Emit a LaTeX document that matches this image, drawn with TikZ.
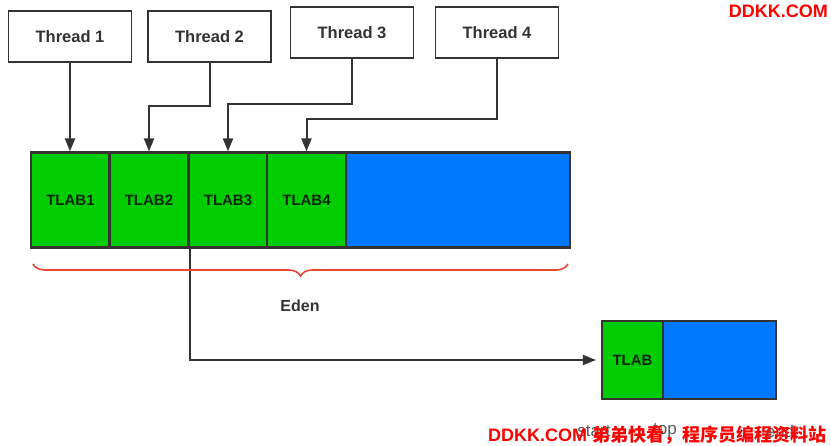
\documentclass[tikz,border=0pt]{standalone}
\usepackage{fontspec}
\setmainfont{Liberation Sans}
\newfontfamily\cjk{Noto Sans CJK SC}
\usetikzlibrary{arrows.meta,decorations.pathreplacing}
\definecolor{tgreen}{RGB}{0,204,0}
\definecolor{tblue}{RGB}{0,120,255}
\definecolor{edge}{RGB}{51,51,51}
\definecolor{wm}{RGB}{255,0,0}
\definecolor{braceRed}{RGB}{235,70,50}
\tikzset{
  thread/.style={draw=edge, line width=1.8pt, fill=white, minimum width=123pt, minimum height=51pt, inner sep=0pt, font=\bfseries\fontsize{16.5}{18}\selectfont, text=edge},
  tlab/.style={draw=edge, line width=2.2pt, fill=tgreen, minimum width=79pt, minimum height=95pt, inner sep=0pt, font=\bfseries\fontsize{15}{17}\selectfont, text=black!85!green},
  free/.style={draw=edge, line width=2.2pt, fill=tblue, minimum height=95pt, inner sep=0pt},
  arr/.style={draw=edge, line width=2pt, -{Triangle[length=13pt,width=10pt]}},
  lbl/.style={font=\fontsize{17}{19}\selectfont, text=black!65},
  wmk/.style={font=\bfseries\fontsize{18}{20}\selectfont, text=wm, inner sep=0pt}
}
\begin{document}
\begin{tikzpicture}[x=1pt,y=-1pt]
\useasboundingbox (0,0) rectangle (831,446);
% thread boxes
\node[thread] (t1) at (70,36.5) {Thread 1};
\node[thread] (t2) at (209.5,36.5) {Thread 2};
\node[thread] (t3) at (352,32.5) {Thread 3};
\node[thread] (t4) at (497,32.5) {Thread 4};
% eden
\node[free, minimum width=225pt] (blue) at (457.5,200) {};
\node[tlab] (l1) at (70.5,200) {TLAB1};
\node[tlab] (l2) at (149,200) {TLAB2};
\node[tlab] (l3) at (228,200) {TLAB3};
\node[tlab] (l4) at (306.5,200) {TLAB4};
% small tlab
\node[free, minimum width=113pt, minimum height=78pt] (sblue) at (719.5,360) {};
\node[tlab, minimum width=61pt, minimum height=78pt] (stlab) at (632.5,360) {TLAB};
% arrows
\draw[arr] (t1.south) -- (t1.south |- l1.north);
\draw[arr] (t2.south) |- (l2.north |- 0,106) -- (l2.north);
\draw[arr] (t3.south) |- (l3.north |- 0,104) -- (l3.north);
\draw[arr] (t4.south) |- (l4.north |- 0,119) -- (l4.north);
\draw[arr, shorten >=5pt] (l2.south east) |- (stlab.west);
% brace
\coordinate (bl) at (33,264);
\coordinate (br) at (568,264);
\draw[braceRed, line width=1.6pt, decorate, decoration={brace, mirror, amplitude=12pt}] (bl) -- (br);
\node[font=\bfseries\fontsize{16}{18}\selectfont, text=edge] (eden) at (300,306) {Eden};
% labels under small box
\node[lbl] (start) at (594,431) {start};
\node[lbl] (top) at (665,431) {top};
\node[lbl] (end) at (780,431) {end};
% watermarks
\node[wmk, anchor=north east] (wm1) at (828,5) {DDKK.COM};
\node[wmk, anchor=south west] (wm2) at (488,444) {DDKK.COM {\cjk 弟弟快看，程序员编程资料站}};
\end{tikzpicture}
\end{document}
